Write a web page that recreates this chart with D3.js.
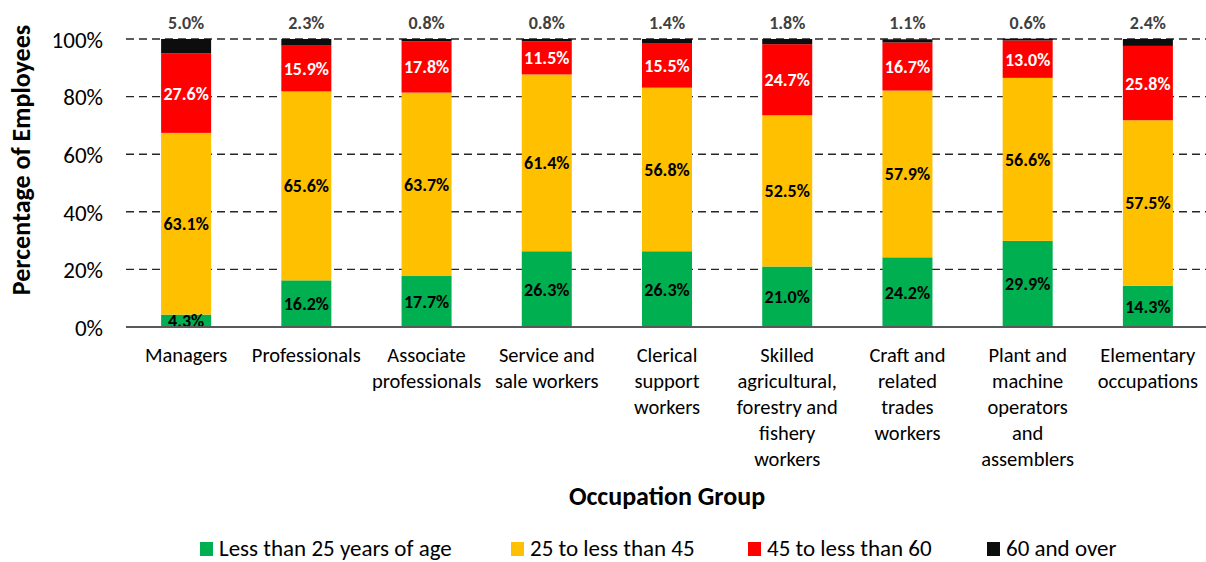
<!DOCTYPE html>
<html>
<head>
<meta charset="utf-8">
<script src="https://cdn.jsdelivr.net/npm/d3@7"></script>
<style>
  body { margin: 0; background: #fff; }
  svg { display: block; font-family: "Carlito", "Lato", sans-serif; }
</style>
</head>
<body>
<svg id="chart" width="1206" height="562"></svg>
<script>
const categories = ["Managers", "Professionals", "Associate professionals", "Service and sale workers",
  "Clerical support workers", "Skilled agricultural, forestry and fishery workers",
  "Craft and related trades workers", "Plant and machine operators and assemblers", "Elementary occupations"];
const categoryLines = [
  ["Managers"], ["Professionals"], ["Associate", "professionals"], ["Service and", "sale workers"],
  ["Clerical", "support", "workers"], ["Skilled", "agricultural,", "forestry and", "fishery", "workers"],
  ["Craft and", "related", "trades", "workers"], ["Plant and", "machine", "operators", "and", "assemblers"],
  ["Elementary", "occupations"]
];
const seriesNames = ["Less than 25 years of age", "25 to less than 45", "45 to less than 60", "60 and over"];
const under25 = [4.3, 16.2, 17.7, 26.3, 26.3, 21.0, 24.2, 29.9, 14.3];
const age25to45 = [63.1, 65.6, 63.7, 61.4, 56.8, 52.5, 57.9, 56.6, 57.5];
const age45to60 = [27.6, 15.9, 17.8, 11.5, 15.5, 24.7, 16.7, 13.0, 25.8];
const age60plus = [5.0, 2.3, 0.8, 0.8, 1.4, 1.8, 1.1, 0.6, 2.4];
const yTicks = [0, 20, 40, 60, 80, 100];

const colors = ["#00B050", "#FFC000", "#FF0000", "#0D0D0D"];
const labelColors = ["#000", "#000", "#fff", "#404040"];

const seriesValues = [under25, age25to45, age45to60, age60plus];
const rows = categories.map((c, i) => {
  const r = { cat: c };
  seriesNames.forEach((s, k) => r[s] = seriesValues[k][i]);
  return r;
});
const stacked = d3.stack().keys(seriesNames)(rows);

const svg = d3.select("#chart");
const pL = 126, pR = 1208, pT = 39, pB = 327;

const x = d3.scaleBand().domain(categories).range([pL, pR]).paddingInner(0.584).paddingOuter(0.292);
const y = d3.scaleLinear().domain([0, 100]).range([pB, pT]);

// gridlines
svg.append("g").selectAll("line").data(yTicks.filter(t => t > 0)).join("line")
  .attr("x1", pL).attr("x2", 1206)
  .attr("y1", d => y(d)).attr("y2", d => y(d))
  .attr("stroke", "#262626").attr("stroke-width", 1.4).attr("stroke-dasharray", "8,5");

// y axis labels
const yAxis = d3.axisLeft(y).tickValues(yTicks).tickFormat(d => d + "%").tickSize(0).tickPadding(0);
const yg = svg.append("g").attr("transform", `translate(103,0)`).call(yAxis);
yg.select(".domain").remove();
yg.selectAll("text").attr("font-size", 23).attr("fill", "#000").attr("dy", "0.36em")
  .style("font-family", "Carlito, Lato, sans-serif");

// bars
const g = svg.append("g");
stacked.forEach((layer, k) => {
  g.append("g").selectAll("rect").data(layer).join("rect")
    .attr("x", d => x(d.data.cat))
    .attr("width", x.bandwidth())
    .attr("y", d => y(d[1]))
    .attr("height", d => y(d[0]) - y(d[1]))
    .attr("fill", colors[k]);
});

// baseline
svg.append("line").attr("x1", pL).attr("x2", 1206).attr("y1", y(0)).attr("y2", y(0))
  .attr("stroke", "#595959").attr("stroke-width", 2);

// labels inside
stacked.forEach((layer, k) => {
  g.append("g").selectAll("text").data(layer).join("text")
    .attr("x", d => x(d.data.cat) + x.bandwidth() / 2)
    .attr("y", d => k === 3 ? y(100) - 16 : (y(d[0]) + y(d[1])) / 2)
    .attr("dy", "0.36em")
    .attr("text-anchor", "middle")
    .attr("font-size", 18).attr("font-weight", "bold")
    .attr("fill", labelColors[k])
    .text(d => (d[1] - d[0]).toFixed(1) + "%");
});

// x labels
const xg = svg.append("g");
categories.forEach((c, i) => {
  const t = xg.append("text")
    .attr("x", x(c) + x.bandwidth() / 2).attr("y", 362)
    .attr("text-anchor", "middle").attr("font-size", 20.5).attr("fill", "#000");
  categoryLines[i].forEach((ln, j) => {
    t.append("tspan").attr("x", x(c) + x.bandwidth() / 2).attr("dy", j === 0 ? 0 : 26).text(ln);
  });
});

// axis titles
svg.append("text").attr("x", 667).attr("y", 505).attr("text-anchor", "middle")
  .attr("font-size", 26).attr("font-weight", "bold").text("Occupation Group");
svg.append("text").attr("transform", `translate(30,160) rotate(-90)`).attr("text-anchor", "middle")
  .attr("font-size", 26).attr("font-weight", "bold").text("Percentage of Employees");

// legend
const legendX = [200, 511, 748, 987];
const lg = svg.append("g");
seriesNames.forEach((s, k) => {
  lg.append("rect").attr("x", legendX[k]).attr("y", 542).attr("width", 13).attr("height", 14).attr("fill", colors[k]);
  lg.append("text").attr("x", legendX[k] + 19).attr("y", 556).attr("font-size", 23).attr("fill", "#000").text(s);
});
</script>
</body>
</html>
